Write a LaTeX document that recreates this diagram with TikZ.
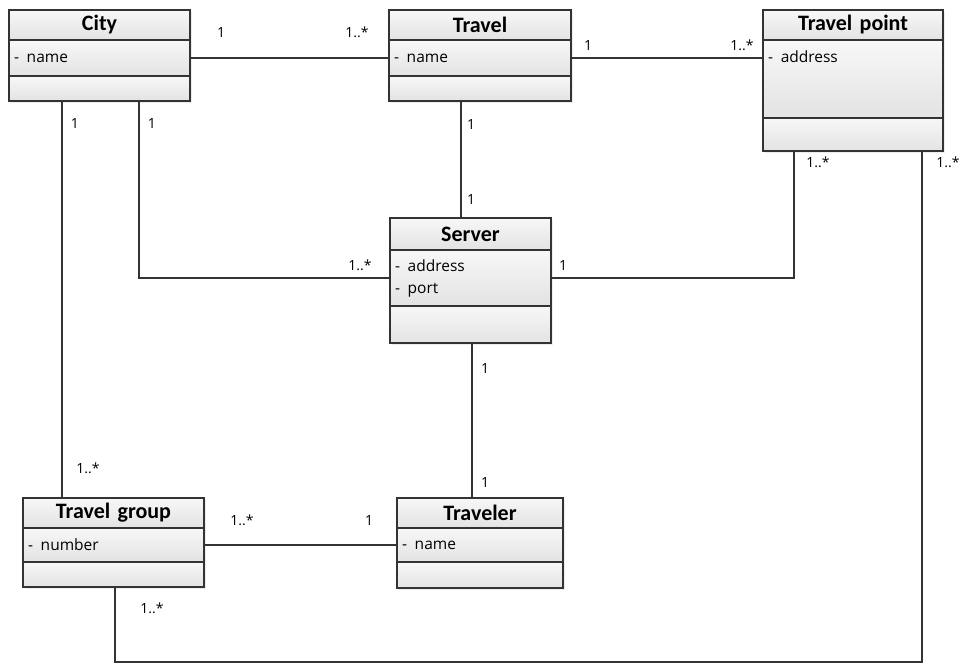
\documentclass[tikz,border=0pt]{standalone}
\usepackage{fontspec}
\setmainfont{Open Sans}
\newfontfamily\headfont{Carlito}
\usetikzlibrary{positioning,shadows}
\definecolor{umlline}{HTML}{333333}

\begin{document}
\begin{tikzpicture}[x=1pt,y=-1pt,
  part/.style={draw=umlline, line width=1.2pt, top color=white!97!black, bottom color=white!89!black,
    drop shadow={opacity=0.15,shadow xshift=1.5pt,shadow yshift=-1.5pt},
    inner xsep=5pt, inner ysep=0pt, outer sep=0pt, align=left,
    font=\fontsize{15.5}{22}\selectfont},
  head/.style={part, align=center, minimum height=30pt, font=\headfont\bfseries\fontsize{22}{24}\selectfont},
  mult/.style={inner sep=0pt, font=\fontsize{14}{16}\selectfont},
  assoc/.style={draw=umlline, line width=1.2pt}]
  \useasboundingbox (0,0) rectangle (964,664);
  % classes
  \node[head, text width=171pt] (city) at (99.5,25) {City};
  \node[part, text width=171pt, minimum height=36pt, below=0pt of city] (city-a) {-\enspace name};
  \node[part, text width=171pt, minimum height=25pt, below=0pt of city-a] (city-o) {};

  \node[head, text width=172pt] (travel) at (480,25) {Travel};
  \node[part, text width=172pt, minimum height=36pt, below=0pt of travel] (travel-a) {-\enspace name};
  \node[part, text width=172pt, minimum height=25pt, below=0pt of travel-a] (travel-o) {};

  \node[head, text width=170pt] (tp) at (853,25) {Travel point};
  \node[part, text width=170pt, text height=22pt, text depth=56pt, below=0pt of tp] (tp-a) {-\enspace address};
  \node[part, text width=170pt, minimum height=33pt, below=0pt of tp-a] (tp-o) {};

  \node[head, text width=151pt, minimum height=32pt] (server) at (470.5,234) {Server};
  \node[part, text width=151pt, minimum height=56pt, below=0pt of server] (server-a) {-\enspace address\\-\enspace port};
  \node[part, text width=151pt, minimum height=37pt, below=0pt of server-a] (server-o) {};

  \node[head, text width=171pt] (tg) at (113.5,513) {Travel group};
  \node[part, text width=171pt, minimum height=34pt, below=0pt of tg] (tg-a) {-\enspace number};
  \node[part, text width=171pt, minimum height=25pt, below=0pt of tg-a] (tg-o) {};

  \node[head, text width=156pt] (traveler) at (480,513) {Traveler};
  \node[part, text width=156pt, minimum height=34pt, below=0pt of traveler] (traveler-a) {-\enspace name};
  \node[part, text width=156pt, minimum height=26pt, below=0pt of traveler-a] (traveler-o) {};

  % associations
  \draw[assoc] (city-a.east) -- (travel-a.west);
  \draw[assoc] (travel-a.east) -- (travel-a.east -| tp-a.west);
  \draw[assoc] ([xshift=-19pt]travel-o.south) -- ([xshift=-19pt]travel-o.south |- server.north);
  \draw[assoc] ([xshift=-37.5pt]city-o.south) -- ([xshift=-37.5pt]city-o.south |- tg.north);
  \draw[assoc] ([xshift=39.5pt]city-o.south) |- (server-a.west);
  \draw[assoc] (server-a.east) -| ([xshift=-59pt]tp-o.south);
  \draw[assoc] ([xshift=69pt]tp-o.south) -- ++(0,511) -| ([xshift=1.5pt]tg-o.south);
  \draw[assoc] (tg-a.east) -- (traveler-a.west);
  \draw[assoc] ([xshift=1.5pt]server-o.south) -- ([xshift=1.5pt]server-o.south |- traveler.north);

  % multiplicities
  \node[mult] (m-ct1) at (221,33) {1};
  \node[mult] (m-ct2) at (357,32) {1..*};
  \node[mult] (m-tt1) at (588,46) {1};
  \node[mult] (m-tt2) at (742,45) {1..*};
  \node[mult] (m-cg1) at (75,124) {1};
  \node[mult] (m-cs1) at (152,124) {1};
  \node[mult] (m-ts1) at (471,125) {1};
  \node[mult] (m-ts2) at (471,199) {1};
  \node[mult] (m-cs2) at (360,265) {1..*};
  \node[mult] (m-sp1) at (563,265) {1};
  \node[mult] (m-sp2) at (818,162) {1..*};
  \node[mult] (m-pg1) at (948,162) {1..*};
  \node[mult] (m-sv1) at (485,368) {1};
  \node[mult] (m-sv2) at (485,482) {1};
  \node[mult] (m-cg2) at (88,468) {1..*};
  \node[mult] (m-gv1) at (242,520) {1..*};
  \node[mult] (m-gv2) at (369,520) {1};
  \node[mult] (m-pg2) at (152,608) {1..*};
\end{tikzpicture}
\end{document}
